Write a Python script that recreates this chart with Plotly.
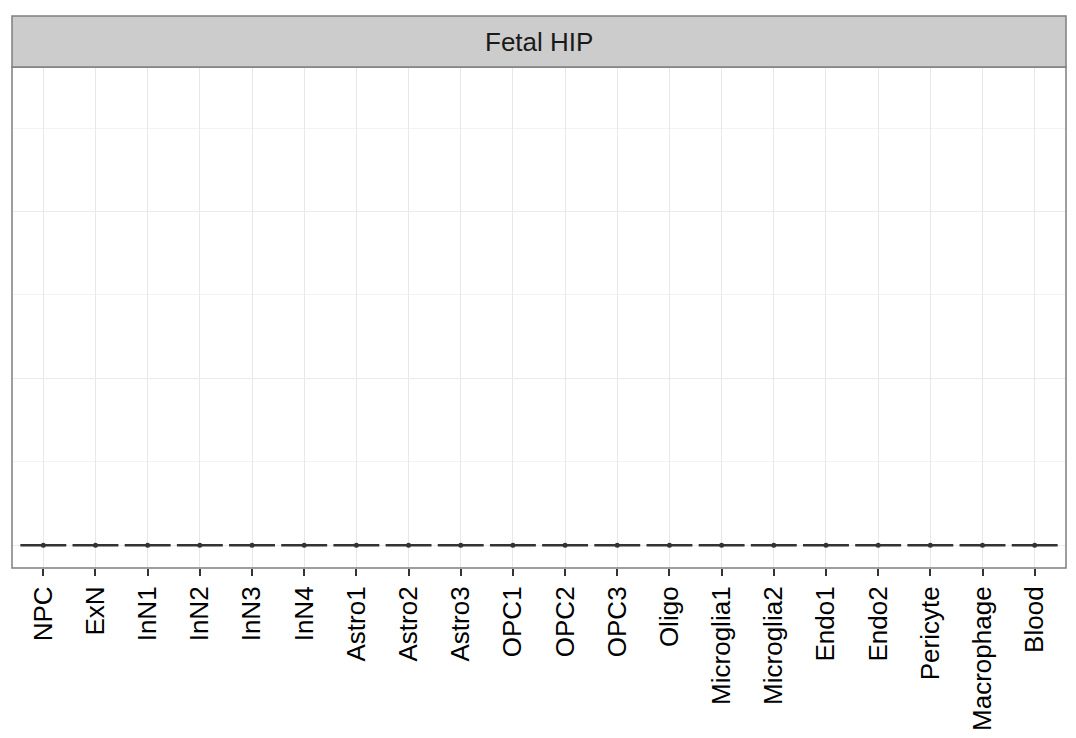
import plotly.graph_objects as go

categories = ["NPC", "ExN", "InN1", "InN2", "InN3", "InN4", "Astro1", "Astro2", "Astro3",
              "OPC1", "OPC2", "OPC3", "Oligo", "Microglia1", "Microglia2", "Endo1", "Endo2",
              "Pericyte", "Macrophage", "Blood"]
values = [[0, 0, 0] for _ in categories]
medians = [0 for _ in categories]
strip_label = "Fetal HIP"
y_max = 2.73
major_ticks = [0, 1, 2]
minor_ticks = [0.5, 1.5, 2.5]

# page has an 8px body margin; size the figure so it fits the 1076x738 window
W, H = 1060, 722
L, R, T, B = 4, 2, 59, 162
ph = H - T - B

fig = go.Figure()
for cat, vals in zip(categories, values):
    fig.add_trace(go.Box(
        x=[cat] * len(vals), y=vals, name=cat,
        fillcolor="white", line=dict(color="#333333", width=2.5),
        boxpoints=False, whiskerwidth=1, width=0.88, showlegend=False,
    ))
fig.add_trace(go.Scatter(
    x=categories, y=medians, mode="markers",
    marker=dict(color="#333333", size=5), showlegend=False,
))

span = y_max
fig.update_layout(
    width=W, height=H,
    margin=dict(l=L, r=R, t=T, b=B, autoexpand=False),
    paper_bgcolor="white", plot_bgcolor="white",
    font=dict(family="Liberation Sans, Arial, sans-serif", color="black"),
    xaxis=dict(
        categoryorder="array", categoryarray=categories,
        range=[-0.6, len(categories) - 0.4],
        showgrid=True, gridcolor="#e8e8e8", gridwidth=1,
        tickangle=-90, tickfont=dict(size=26, color="black"),
        ticks="outside", ticklen=7, tickwidth=2, tickcolor="#333333",
        showline=False, zeroline=False, automargin=False,
    ),
    yaxis=dict(
        range=[-0.05 * span, 1.05 * span],
        tickvals=major_ticks, showticklabels=False,
        showgrid=True, gridcolor="#ebebeb", gridwidth=1,
        minor=dict(tickvals=minor_ticks, showgrid=True, gridcolor="#f3f3f3", gridwidth=1),
        zeroline=False, showline=False, ticks="", automargin=False,
    ),
    shapes=[
        dict(type="rect", xref="paper", yref="paper", x0=0, x1=1, y0=0, y1=1,
             line=dict(color="#7f7f7f", width=1.5), fillcolor="rgba(0,0,0,0)", layer="above"),
        dict(type="rect", xref="paper", yref="paper", x0=0, x1=1, y0=1, y1=1 + 51 / ph,
             line=dict(color="#7f7f7f", width=1.5), fillcolor="#cccccc"),
    ],
    annotations=[
        dict(text=strip_label, xref="paper", yref="paper", x=0.5, y=1 + 25.5 / ph,
             xanchor="center", yanchor="middle", showarrow=False,
             font=dict(size=26, color="#1a1a1a")),
    ],
)

fig.write_html("out.html")
